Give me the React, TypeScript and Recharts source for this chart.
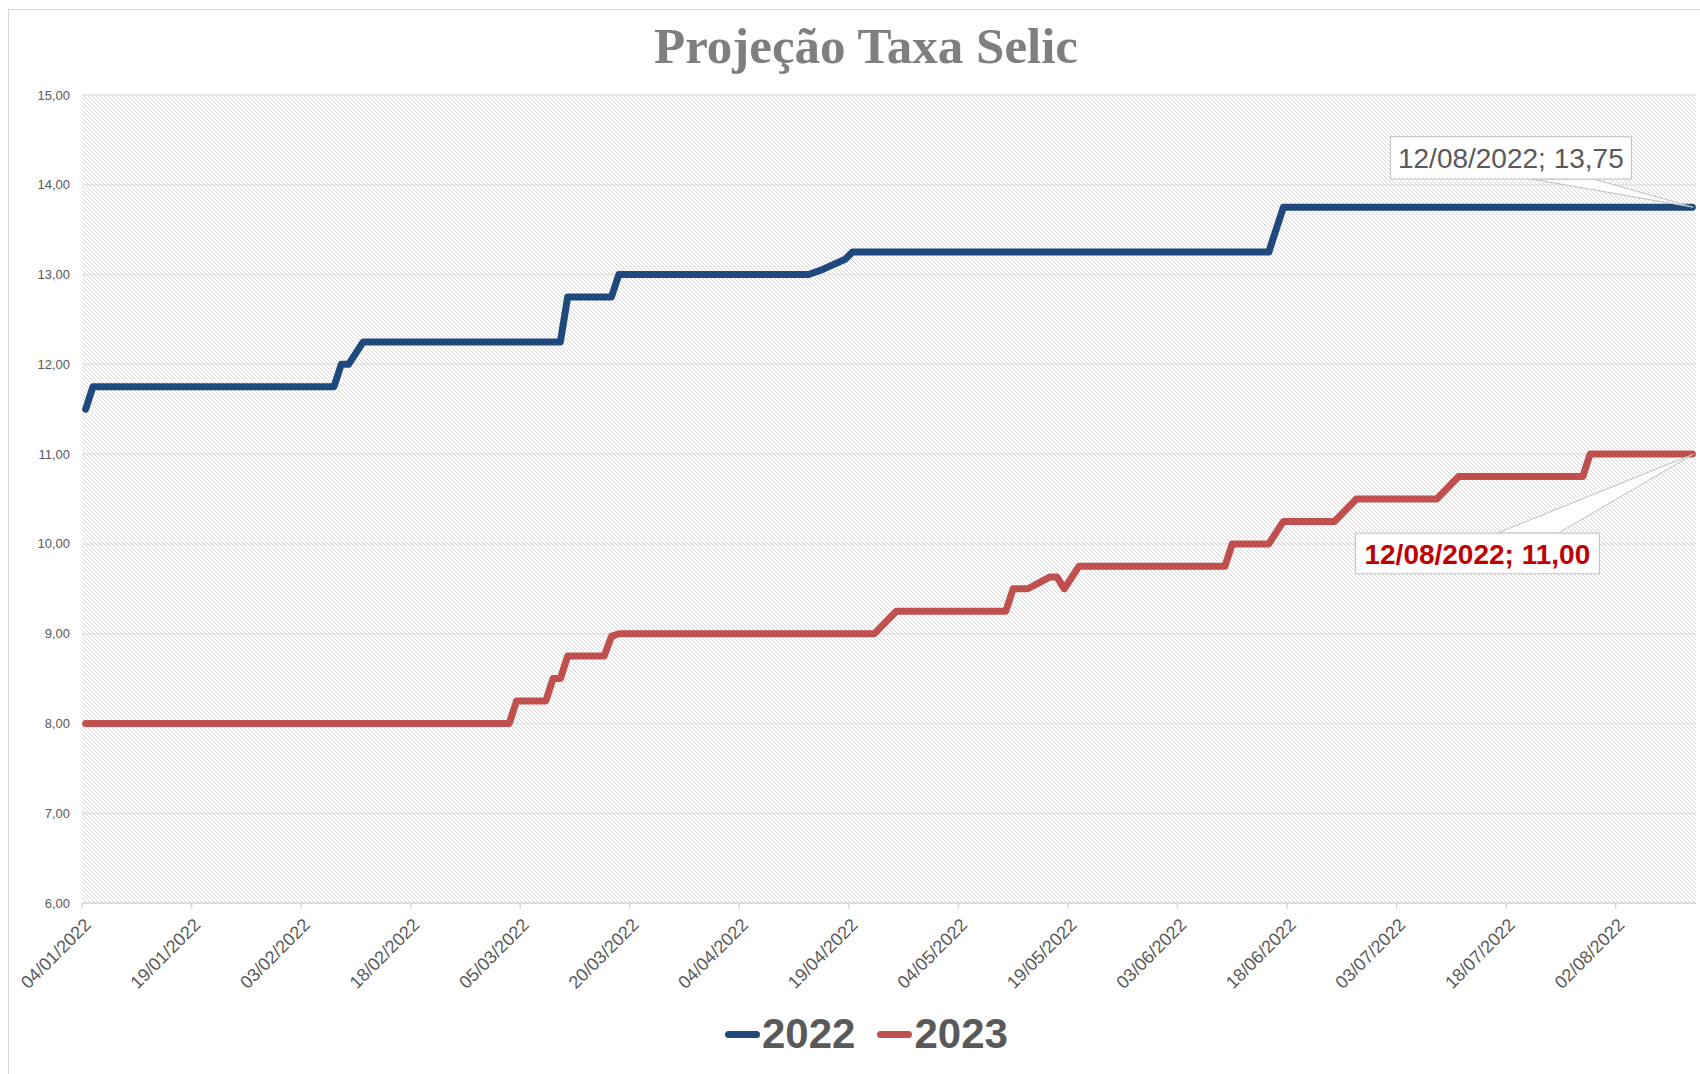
import React from "react";
import { LineChart, Line, XAxis, YAxis, CartesianGrid } from "recharts";

// ---- Data ----
const dates2022 = [
  "04/01/2022", "05/01/2022", "07/02/2022", "08/02/2022", "09/02/2022", "11/02/2022",
  "10/03/2022", "11/03/2022", "17/03/2022", "18/03/2022", "13/04/2022", "15/04/2022",
  "18/04/2022", "19/04/2022", "15/06/2022", "17/06/2022", "12/08/2022",
];
const selic2022 = [
  11.5, 11.75, 11.75, 12.0, 12.0, 12.25,
  12.25, 12.75, 12.75, 13.0, 13.0, 13.06,
  13.17, 13.25, 13.25, 13.75, 13.75,
];

const dates2023 = [
  "04/01/2022", "03/03/2022", "04/03/2022", "08/03/2022", "09/03/2022", "10/03/2022",
  "11/03/2022", "16/03/2022", "17/03/2022", "18/03/2022", "22/04/2022", "25/04/2022",
  "10/05/2022", "11/05/2022", "13/05/2022", "16/05/2022", "17/05/2022", "18/05/2022",
  "20/05/2022", "09/06/2022", "10/06/2022", "15/06/2022", "17/06/2022", "24/06/2022",
  "27/06/2022", "08/07/2022", "11/07/2022", "28/07/2022", "29/07/2022", "12/08/2022",
];
const selic2023 = [
  8.0, 8.0, 8.25, 8.25, 8.5, 8.5,
  8.75, 8.75, 8.97, 9.0, 9.0, 9.25,
  9.25, 9.5, 9.5, 9.63, 9.63, 9.5,
  9.75, 9.75, 10.0, 10.0, 10.25, 10.25,
  10.5, 10.5, 10.75, 10.75, 11.0, 11.0,
];

const xTickLabels = [
  "04/01/2022", "19/01/2022", "03/02/2022", "18/02/2022", "05/03/2022",
  "20/03/2022", "04/04/2022", "19/04/2022", "04/05/2022", "19/05/2022",
  "03/06/2022", "18/06/2022", "03/07/2022", "18/07/2022", "02/08/2022",
];
const yTicks = [6, 7, 8, 9, 10, 11, 12, 13, 14, 15];
const seriesNames = ["2022", "2023"];
const seriesColors = ["#1F497D", "#C0504D"];
const titleText = "Projeção Taxa Selic";

// ---- Helpers ----
const parseDate = (s: string) => {
  const [d, m, y] = s.split("/").map(Number);
  return Date.UTC(y, m - 1, d);
};
const base = parseDate(xTickLabels[0]);
const toDay = (s: string) => Math.round((parseDate(s) - base) / 86400000);
const fmt = (v: number) => v.toFixed(2).replace(".", ",");
// date axis: each daily point sits in the middle of its day slot
const CENTER = 0.5;

const data2022 = dates2022.map((d, i) => ({ t: toDay(d) + CENTER, date: d, v: selic2022[i] }));
const data2023 = dates2023.map((d, i) => ({ t: toDay(d) + CENTER, date: d, v: selic2023[i] }));
const tickDays = xTickLabels.map(toDay);
const labelByDay: Record<number, string> = {};
xTickLabels.forEach((l) => (labelByDay[toDay(l)] = l));

const FONT = "'Liberation Sans', Arial, sans-serif";

const XTick = (props: any) => {
  const { x, y, payload } = props;
  return (
    <g transform={`translate(${x + 10},${y + 17}) rotate(-45)`}>
      <text x={0} y={0} textAnchor="end" fontFamily={FONT} fontSize={18} fill="#595959">
        {labelByDay[payload.value]}
      </text>
    </g>
  );
};

const YTick = (props: any) => {
  const { x, y, payload } = props;
  return (
    <text x={x} y={y} textAnchor="end" dominantBaseline="central" fontFamily={FONT} fontSize={13} fill="#595959">
      {fmt(payload.value)}
    </text>
  );
};

const makeCallout = (dataArr: any[], kind: "above" | "below") => (props: any) => {
  const { x, y, index } = props;
  if (index !== dataArr.length - 1 || x == null || y == null) return null;
  const last = dataArr[dataArr.length - 1];
  const text = `${last.date}; ${fmt(last.v)}`;
  if (kind === "above") {
    const bx = x - 302, by = y - 70.5, bw = 241, bh = 42.3;
    return (
      <g>
        <polygon
          points={`${x - 161},${by + bh} ${x - 99},${by + bh} ${x + 1},${y}`}
          fill="#ffffff" stroke="#bfbfbf" strokeWidth={1}
        />
        <rect x={bx} y={by} width={bw} height={bh} fill="#ffffff" stroke="#bfbfbf" strokeWidth={1} />
        <text x={bx + bw / 2} y={y - 39} textAnchor="middle" fontFamily={FONT} fontSize={28} fill="#595959">
          {text}
        </text>
      </g>
    );
  }
  const bx = x - 337, by = y + 79, bw = 244, bh = 40.7;
  return (
    <g>
      <polygon
        points={`${x - 195},${by} ${x - 134},${by} ${x + 1},${y}`}
        fill="#ffffff" stroke="#bfbfbf" strokeWidth={1}
      />
      <rect x={bx} y={by} width={bw} height={bh} fill="#ffffff" stroke="#bfbfbf" strokeWidth={1} />
      <text x={bx + bw / 2} y={y + 109.7} textAnchor="middle" fontFamily={FONT} fontSize={28} fontWeight="bold" fill="#C00000">
        {text}
      </text>
    </g>
  );
};

export default function App() {
  return (
    <div style={{ position: "absolute", left: 0, top: 0, width: 1700, height: 1074, background: "#fff", overflow: "hidden" }}>
      <div
        style={{
          position: "absolute", left: 8, top: 9, width: 1700, height: 1074,
          borderLeft: "1px solid #d9d9d9", borderTop: "1px solid #d9d9d9",
        }}
      />
      <div
        style={{
          position: "absolute", left: 866, top: 21, transform: "translateX(-50%)",
          fontFamily: "'Liberation Serif', 'Times New Roman', serif", fontWeight: "bold",
          fontSize: 51, lineHeight: "51px", color: "#7F7F7F", whiteSpace: "nowrap",
        }}
      >
        {titleText}
      </div>
      <div style={{ position: "absolute", left: 0, top: 0 }}>
        <LineChart width={1700} height={1074} margin={{ top: 95, right: 4, bottom: 51, left: 0 }}>
          <defs>
            <pattern id="hatch" patternUnits="userSpaceOnUse" width="4" height="4">
              <rect x="0" y="0" width="4" height="4" fill="#ffffff" />
              <path d="M-1,-1 L5,5 M-1,3 L1,5 M3,-1 L5,1" stroke="#d6d6d6" strokeWidth="1" />
            </pattern>
          </defs>
          <CartesianGrid vertical={false} stroke="#e2e2e2" strokeWidth={1.5} fill="url(#hatch)" />
          <XAxis
            type="number"
            dataKey="t"
            domain={[0, 221]}
            ticks={tickDays}
            interval={0}
            allowDataOverflow
            height={120}
            tickSize={6}
            tickMargin={0}
            axisLine={{ stroke: "#d9d9d9", strokeWidth: 1.5 }}
            tickLine={{ stroke: "#d9d9d9", strokeWidth: 1.5 }}
            tick={<XTick />}
          />
          <YAxis
            type="number"
            domain={[6, 15]}
            ticks={yTicks}
            interval={0}
            width={82}
            axisLine={false}
            tickLine={false}
            tickSize={0}
            tickMargin={12}
            tick={<YTick />}
          />
          <Line
            data={data2022}
            dataKey="v"
            name={seriesNames[0]}
            type="linear"
            stroke={seriesColors[0]}
            strokeWidth={7}
            strokeLinejoin="round"
            strokeLinecap="round"
            dot={false}
            activeDot={false}
            isAnimationActive={false}
            label={makeCallout(data2022, "above")}
          />
          <Line
            data={data2023}
            dataKey="v"
            name={seriesNames[1]}
            type="linear"
            stroke={seriesColors[1]}
            strokeWidth={7}
            strokeLinejoin="round"
            strokeLinecap="round"
            dot={false}
            activeDot={false}
            isAnimationActive={false}
            label={makeCallout(data2023, "below")}
          />
        </LineChart>
      </div>
      <div
        style={{
          position: "absolute", left: 725, top: 1013, height: 42,
          display: "flex", alignItems: "center",
          fontFamily: FONT, fontWeight: "bold", fontSize: 42, lineHeight: "42px", color: "#595959",
        }}
      >
        {seriesNames.map((n, i) => (
          <div key={n} style={{ display: "flex", alignItems: "center", marginRight: i === 0 ? 22 : 0 }}>
            <div style={{ width: 35, height: 7, borderRadius: 4, background: seriesColors[i], marginRight: 2 }} />
            <span>{n}</span>
          </div>
        ))}
      </div>
    </div>
  );
}
